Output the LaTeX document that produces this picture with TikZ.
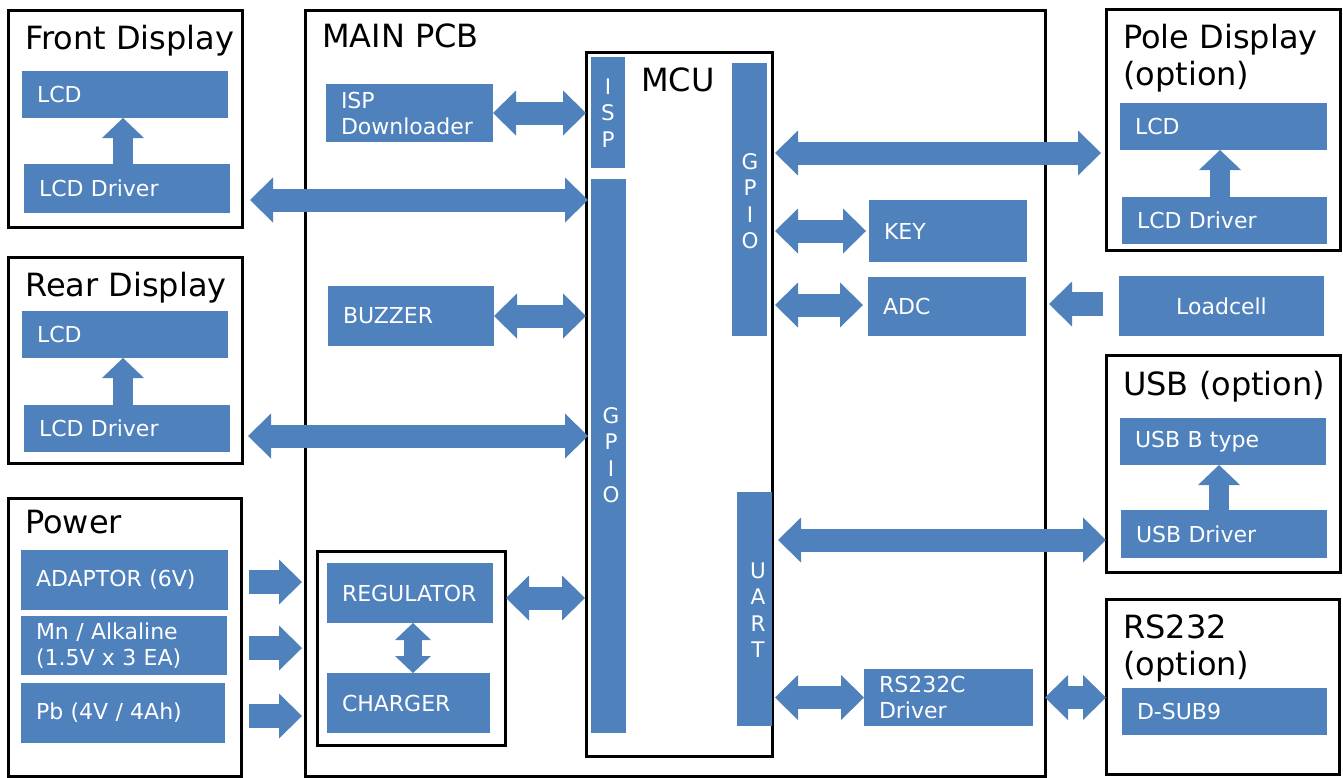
\documentclass[tikz,border=0pt]{standalone}
\usepackage{fontspec}
\setmainfont{DejaVu Sans}
\usetikzlibrary{arrows.meta,calc}
\definecolor{bl}{HTML}{4F81BD}
\newcommand\blk[7][]{%
  \pgfmathsetmacro\blkw{#5-#3}%
  \pgfmathsetmacro\blkh{#6-#4}%
  \pgfmathsetmacro\blkt{#5-#3-30}%
  \node[bbox, anchor=north west, minimum width=\blkw pt, minimum height=\blkh pt, text width=\blkt pt, #1] (#2) at (#3,#4) {#7};}
\newcommand\obx[5]{%
  \pgfmathsetmacro\obxw{#4-#2}%
  \pgfmathsetmacro\obxh{#5-#3}%
  \node[obox, anchor=north west, minimum width=\obxw pt, minimum height=\obxh pt] (#1) at (#2,#3) {};}
\tikzset{
  bbox/.style={fill=bl, draw=none, outer sep=0pt, inner xsep=15pt, inner ysep=0pt, align=left, text=white, font=\fontsize{22}{26}\selectfont},
  obox/.style={draw=black, line width=3pt, outer sep=0pt, inner sep=0pt, fill=white},
  ttl/.style={anchor=base west, inner sep=0pt, font=\fontsize{32}{37}\selectfont},
  vlet/.style={inner sep=0pt, align=center, text=white, font=\fontsize{21.5}{26.5}\selectfont},
  dbl/.style={draw=bl, line width=23pt,
    {Triangle[width=45pt,length=23pt,line width=0pt]}-{Triangle[width=45pt,length=23pt,line width=0pt]}},
  sgl/.style={draw=bl, line width=24pt, -{Triangle[width=45pt,length=23pt,line width=0pt]}},
  upa/.style={draw=bl, line width=20pt, -{Triangle[width=42pt,length=20pt,line width=0pt]}},
  vdbl/.style={draw=bl, line width=18pt,
    {Triangle[width=36pt,length=17pt,line width=0pt]}-{Triangle[width=36pt,length=17pt,line width=0pt]}},
}
\begin{document}
\begin{tikzpicture}[x=1pt, y=-1pt]
\useasboundingbox (0,0) rectangle (1343,777);
% containers
\obx{pcb}{305}{10}{1045}{776}
\obx{fd}{8}{10}{242}{227}
\obx{rd}{8}{257}{242}{463}
\obx{pw}{8}{498}{241}{776}
\obx{mcu}{586}{52}{772}{756}
\obx{chgbox}{317}{551}{505}{745}
\obx{pole}{1106}{9}{1340}{250}
\obx{usb}{1106}{355}{1340}{572}
\obx{rsbox}{1106}{599}{1339}{774}
% titles
\node[ttl] (tfd) at (25,49) {Front Display};
\node[ttl] (trd) at (25,296) {Rear Display};
\node[ttl] (tpw) at (25,533) {Power};
\node[ttl] (tpcb) at (322,47) {MAIN PCB};
\node[ttl] (tmcu) at (641,91) {MCU};
\node[ttl] (tpd1) at (1123,48) {Pole Display};
\node[ttl] (tpd2) at (1123,85) {(option)};
\node[ttl] (tusb) at (1123,395) {USB (option)};
\node[ttl] (trs1) at (1123,638) {RS232};
\node[ttl] (trs2) at (1123,675) {(option)};
% blue blocks
\blk{flcd}{22}{71}{228}{118}{LCD}
\blk{fdrv}{24}{164}{230}{213}{LCD Driver}
\blk{rlcd}{22}{311}{228}{358}{LCD}
\blk{rdrv}{24}{405}{230}{452}{LCD Driver}
\blk{adp}{21}{550}{228}{610}{ADAPTOR (6V)}
\blk{mn}{21}{616}{227}{675}{Mn / Alkaline\\(1.5V x 3 EA)}
\blk{pb}{21}{683}{225}{743}{Pb (4V / 4Ah)}
\blk{isp}{326}{84}{493}{142}{ISP\\Downloader}
\blk{buz}{328}{286}{494}{346}{BUZZER}
\blk{reg}{327}{563}{493}{623}{REGULATOR}
\blk{chg}{327}{673}{490}{733}{CHARGER}
\blk{ispbar}{591}{57}{625}{168}{}
\blk{gpioL}{591}{179}{626}{733}{}
\blk{gpioR}{732}{63}{767}{336}{}
\blk{uart}{737}{492}{772}{726}{}
\blk{key}{869}{200}{1027}{262}{KEY}
\blk{adc}{868}{277}{1026}{336}{ADC}
\blk[align=center]{load}{1119}{276}{1324}{336}{Loadcell}
\blk{rsd}{864}{669}{1033}{726}{RS232C\\Driver}
\blk{plcd}{1120}{103}{1327}{150}{LCD}
\blk{pdrv}{1122}{197}{1327}{244}{LCD Driver}
\blk{usbb}{1120}{418}{1326}{465}{USB B type}
\blk{usbd}{1121}{510}{1327}{558}{USB Driver}
\blk{dsub}{1122}{688}{1327}{735}{D-SUB9}
% vertical letters
\node[vlet] (lisp) at (608,113) {I\\S\\P};
\node[vlet] (lgpr) at (750,201) {G\\P\\I\\O};
\node[vlet] (lgpl) at (611,455) {G\\P\\I\\O};
\node[vlet] (luart) at (758,610) {U\\A\\R\\T};
% arrows inside displays
\draw[upa] (fdrv.north -| 123,0) -- (flcd.south -| 123,0);
\draw[upa] (rdrv.north -| 123,0) -- (rlcd.south -| 123,0);
\draw[upa] (pdrv.north -| 1220,0) -- (plcd.south -| 1220,0);
\draw[upa] (usbd.north -| 1219,0) -- (usbb.south -| 1219,0);
\draw[vdbl] (reg.south -| 413,0) -- (chg.north -| 413,0);
% connectors
\draw[dbl] (isp.east) -- (isp.east -| mcu.west);
\draw[dbl, shorten <=8pt, shorten >=-2pt] (fd.east |- 0,200) -- (mcu.west |- 0,200);
\draw[dbl] (buz.east) -- (buz.east -| mcu.west);
\draw[dbl, shorten <=6pt, shorten >=-2pt] (rd.east |- 0,436) -- (mcu.west |- 0,436);
\draw[dbl, shorten <=1pt, shorten >=1pt] (chgbox.east |- 0,598) -- (mcu.west |- 0,598);
\draw[dbl, shorten <=8pt, shorten >=5pt] (gpioR.east |- 0,153) -- (pole.west |- 0,153);
\draw[dbl, shorten <=8pt, shorten >=3pt] (gpioR.east |- key.west) -- (key.west);
\draw[dbl, shorten <=8pt, shorten >=5pt] (gpioR.east |- 0,305) -- (adc.west |- 0,305);
\draw[sgl, shorten <=16pt, shorten >=4pt] (load.west |- 0,304) -- (pcb.east |- 0,304);
\draw[dbl, shorten <=6pt] (uart.east |- 0,540) -- (usb.west |- 0,540);
\draw[dbl, shorten <=3pt] (uart.east |- rsd.west) -- (rsd.west);
\draw[dbl] (pcb.east |- rsd.east) -- (rsbox.west |- rsd.east);
\draw[sgl, shorten <=8pt, shorten >=3pt] (pw.east |- 0,582) -- (pcb.west |- 0,582);
\draw[sgl, shorten <=8pt, shorten >=3pt] (pw.east |- 0,648) -- (pcb.west |- 0,648);
\draw[sgl, shorten <=8pt, shorten >=3pt] (pw.east |- 0,716) -- (pcb.west |- 0,716);
\end{tikzpicture}
\end{document}
